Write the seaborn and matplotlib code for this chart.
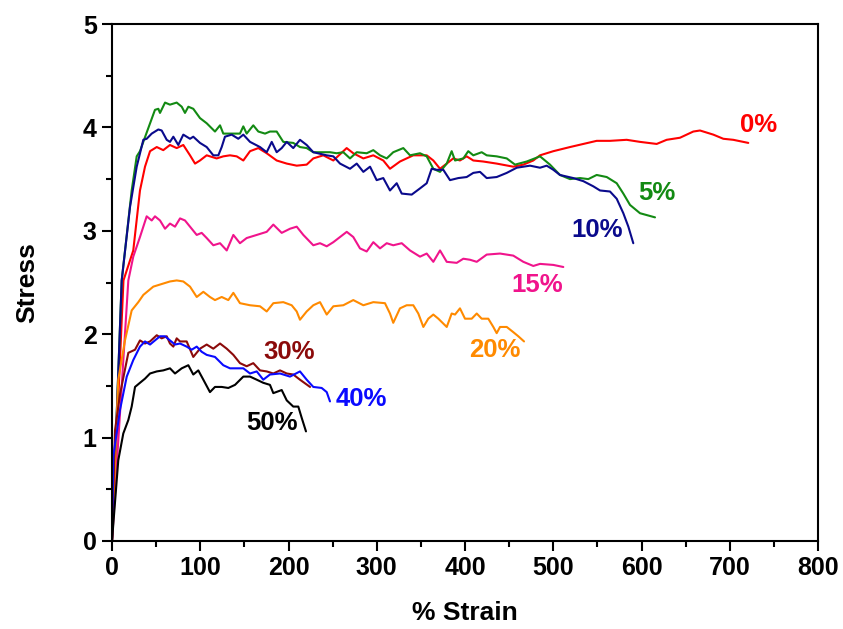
import matplotlib
matplotlib.use("Agg")
import matplotlib.pyplot as plt
from matplotlib.ticker import MultipleLocator
import numpy as np
import pandas as pd
import seaborn as sns

# Stress-strain curves for each filler content (strain in %, stress)
strain_0 = [0, 13.0, 24.1, 31.7, 37.4, 43.1, 50.7, 58.1, 65.7, 73.3, 80.8, 88.4, 94.1, 99.7, 107.3, 118.6, 126.1, 133.7, 141.3, 148.8, 156.4, 165.8, 175.3, 186.6, 198.0, 209.3, 220.6, 228.1, 239.4, 250.8, 265.9, 273.4, 284.8, 296.1, 307.4, 315.0, 326.3, 341.4, 356.6, 364.1, 371.7, 379.3, 386.7, 394.3, 401.9, 409.4, 420.7, 435.9, 454.7, 466.1, 477.4, 485.0, 500.1, 519.0, 534.1, 549.2, 564.3, 583.2, 598.3, 617.2, 628.5, 643.6, 658.7, 666.3, 681.4, 692.7, 704.0, 721.0]
stress_0 = [0, 2.52, 2.81, 3.39, 3.62, 3.77, 3.81, 3.78, 3.83, 3.80, 3.83, 3.73, 3.65, 3.68, 3.73, 3.70, 3.72, 3.73, 3.72, 3.68, 3.77, 3.80, 3.75, 3.68, 3.65, 3.63, 3.64, 3.70, 3.73, 3.68, 3.80, 3.75, 3.70, 3.73, 3.68, 3.60, 3.67, 3.73, 3.73, 3.68, 3.60, 3.65, 3.70, 3.68, 3.72, 3.68, 3.67, 3.65, 3.62, 3.64, 3.68, 3.73, 3.77, 3.81, 3.84, 3.87, 3.87, 3.88, 3.86, 3.84, 3.88, 3.90, 3.96, 3.97, 3.93, 3.89, 3.88, 3.85]

strain_5 = [0, 11.0, 22.3, 28.0, 31.7, 39.3, 48.7, 52.5, 54.4, 60.1, 65.7, 73.3, 79.0, 82.7, 86.5, 92.1, 99.7, 107.3, 116.7, 122.4, 126.1, 133.7, 145.0, 148.8, 152.6, 160.1, 165.8, 173.4, 179.0, 186.6, 194.1, 205.4, 213.0, 220.6, 228.1, 247.0, 254.6, 262.1, 269.7, 277.3, 288.6, 296.1, 303.7, 311.3, 318.7, 330.1, 337.7, 349.0, 356.6, 364.1, 371.7, 379.3, 384.9, 388.7, 398.1, 403.7, 409.4, 418.9, 424.6, 435.9, 447.3, 456.7, 469.9, 485.0, 496.3, 507.6, 519.0, 530.3, 539.7, 549.2, 560.6, 571.9, 579.4, 587.0, 598.3, 615.3]
stress_5 = [0, 2.52, 3.39, 3.72, 3.77, 3.95, 4.17, 4.18, 4.14, 4.24, 4.22, 4.24, 4.20, 4.14, 4.20, 4.18, 4.09, 4.04, 3.96, 4.02, 3.94, 3.94, 3.94, 4.01, 3.94, 4.02, 3.96, 3.94, 3.96, 3.96, 3.86, 3.85, 3.81, 3.80, 3.76, 3.76, 3.75, 3.76, 3.70, 3.76, 3.75, 3.78, 3.73, 3.70, 3.76, 3.80, 3.73, 3.75, 3.72, 3.60, 3.57, 3.65, 3.77, 3.68, 3.70, 3.77, 3.73, 3.76, 3.73, 3.72, 3.70, 3.64, 3.67, 3.72, 3.64, 3.54, 3.50, 3.51, 3.50, 3.54, 3.52, 3.46, 3.36, 3.25, 3.17, 3.13]

strain_10 = [0, 11.0, 20.4, 28.0, 35.5, 39.3, 45.0, 52.5, 56.3, 62.0, 65.7, 69.5, 75.1, 80.8, 88.4, 92.1, 99.7, 107.3, 114.8, 120.5, 124.3, 128.0, 135.6, 143.1, 148.8, 156.4, 167.7, 175.3, 181.0, 186.6, 192.3, 198.0, 205.4, 213.0, 220.6, 228.1, 243.2, 250.8, 258.4, 269.7, 277.3, 284.8, 292.4, 299.9, 307.4, 315.0, 322.6, 328.3, 339.6, 349.0, 356.6, 362.2, 367.9, 375.4, 383.0, 392.4, 401.9, 409.4, 417.0, 424.6, 435.9, 447.3, 458.6, 473.7, 485.0, 492.6, 500.1, 507.6, 522.7, 534.1, 545.4, 553.0, 564.3, 571.9, 579.4, 585.1, 590.7]
stress_10 = [0, 2.52, 3.23, 3.62, 3.88, 3.89, 3.94, 3.98, 3.97, 3.88, 3.86, 3.91, 3.83, 3.93, 3.89, 3.91, 3.85, 3.81, 3.73, 3.73, 3.81, 3.91, 3.93, 3.89, 3.93, 3.86, 3.81, 3.76, 3.86, 3.76, 3.80, 3.86, 3.80, 3.88, 3.83, 3.76, 3.73, 3.72, 3.65, 3.60, 3.65, 3.57, 3.62, 3.49, 3.51, 3.39, 3.46, 3.36, 3.35, 3.41, 3.46, 3.60, 3.59, 3.59, 3.49, 3.51, 3.52, 3.56, 3.57, 3.51, 3.52, 3.56, 3.61, 3.63, 3.61, 3.63, 3.59, 3.54, 3.51, 3.48, 3.43, 3.39, 3.38, 3.31, 3.17, 3.04, 2.88]

strain_15 = [0, 18.5, 24.1, 31.7, 39.3, 45.0, 48.7, 54.4, 60.1, 65.7, 71.4, 77.1, 82.7, 88.4, 96.0, 101.6, 107.3, 114.8, 122.4, 130.0, 137.5, 145.0, 152.6, 164.0, 175.3, 182.8, 192.3, 201.7, 209.3, 216.8, 228.1, 235.7, 243.3, 250.8, 258.4, 266.0, 273.4, 281.0, 288.6, 296.1, 303.7, 311.3, 318.7, 328.3, 337.7, 349.0, 356.6, 364.1, 371.7, 379.3, 390.6, 398.1, 405.7, 413.3, 424.6, 439.7, 454.7, 466.1, 477.4, 485.0, 500.1, 511.4]
stress_15 = [0, 2.52, 2.75, 2.94, 3.14, 3.10, 3.14, 3.10, 3.02, 3.07, 3.04, 3.12, 3.10, 3.04, 2.96, 2.98, 2.93, 2.86, 2.88, 2.81, 2.96, 2.88, 2.93, 2.96, 2.99, 3.06, 2.98, 3.02, 3.04, 2.96, 2.86, 2.88, 2.85, 2.89, 2.94, 2.99, 2.94, 2.83, 2.80, 2.89, 2.83, 2.88, 2.86, 2.88, 2.81, 2.75, 2.78, 2.70, 2.81, 2.70, 2.69, 2.73, 2.72, 2.70, 2.77, 2.78, 2.76, 2.70, 2.66, 2.68, 2.67, 2.65]

strain_20 = [0, 7.1, 14.7, 22.3, 29.8, 35.5, 46.8, 58.1, 65.7, 73.3, 80.8, 88.4, 96.0, 103.5, 111.0, 116.7, 124.3, 131.8, 137.5, 145.0, 156.4, 167.7, 175.3, 182.8, 194.1, 203.6, 209.3, 213.0, 220.6, 228.1, 235.7, 243.3, 250.8, 262.1, 273.4, 284.8, 296.1, 309.3, 315.0, 318.7, 326.3, 333.9, 341.4, 347.1, 352.8, 358.4, 364.1, 369.8, 379.3, 384.9, 388.7, 394.3, 400.0, 407.6, 413.3, 418.9, 426.4, 432.1, 435.9, 439.7, 447.3, 454.7, 460.4, 466.9]
stress_20 = [0, 1.56, 1.94, 2.23, 2.31, 2.38, 2.46, 2.49, 2.51, 2.52, 2.51, 2.46, 2.36, 2.41, 2.36, 2.33, 2.36, 2.33, 2.40, 2.30, 2.28, 2.27, 2.22, 2.30, 2.31, 2.28, 2.22, 2.14, 2.22, 2.28, 2.31, 2.19, 2.27, 2.28, 2.33, 2.28, 2.31, 2.30, 2.20, 2.11, 2.25, 2.28, 2.28, 2.20, 2.07, 2.15, 2.19, 2.15, 2.07, 2.20, 2.19, 2.25, 2.15, 2.15, 2.20, 2.15, 2.15, 2.07, 2.01, 2.07, 2.07, 2.02, 1.98, 1.93]

strain_30 = [0, 3.4, 9.1, 18.5, 26.1, 31.7, 37.4, 43.1, 50.7, 56.3, 62.0, 65.7, 69.5, 73.3, 77.1, 84.6, 92.1, 99.7, 107.3, 114.8, 122.4, 130.0, 137.5, 145.0, 152.6, 160.1, 167.7, 175.3, 182.8, 190.4, 198.0, 205.4, 213.0, 224.4]
stress_30 = [0, 1.07, 1.42, 1.82, 1.85, 1.94, 1.91, 1.93, 1.99, 1.96, 1.98, 1.91, 1.88, 1.96, 1.93, 1.93, 1.78, 1.86, 1.90, 1.86, 1.91, 1.86, 1.80, 1.72, 1.69, 1.72, 1.65, 1.64, 1.62, 1.65, 1.62, 1.61, 1.56, 1.49]

strain_40 = [0, 1.5, 9.1, 16.7, 24.1, 31.7, 37.4, 43.1, 48.7, 54.4, 60.1, 65.7, 71.4, 77.1, 84.6, 90.3, 96.0, 101.6, 107.3, 116.7, 126.1, 133.7, 141.3, 148.8, 156.4, 164.0, 171.4, 179.0, 190.4, 201.7, 213.0, 220.6, 228.1, 237.6, 243.3, 247.0]
stress_40 = [0, 0.82, 1.27, 1.59, 1.75, 1.88, 1.93, 1.90, 1.94, 1.98, 1.98, 1.94, 1.90, 1.91, 1.88, 1.85, 1.88, 1.83, 1.80, 1.78, 1.70, 1.67, 1.67, 1.67, 1.62, 1.64, 1.56, 1.61, 1.62, 1.59, 1.64, 1.56, 1.49, 1.48, 1.44, 1.35]

strain_50 = [0, 7.1, 12.8, 18.5, 22.3, 26.1, 31.7, 37.4, 43.1, 50.7, 58.1, 65.7, 71.4, 79.0, 86.5, 92.1, 97.8, 103.5, 111.0, 116.7, 124.3, 131.8, 139.4, 148.8, 156.4, 164.0, 171.4, 179.0, 182.8, 192.3, 198.0, 205.4, 211.1, 215.0, 219.8]
stress_50 = [0, 0.78, 1.04, 1.17, 1.30, 1.49, 1.53, 1.57, 1.62, 1.64, 1.65, 1.67, 1.62, 1.67, 1.70, 1.61, 1.65, 1.56, 1.44, 1.49, 1.49, 1.48, 1.51, 1.59, 1.59, 1.56, 1.53, 1.51, 1.43, 1.46, 1.36, 1.30, 1.30, 1.19, 1.06]

labels = ["0%", "5%", "10%", "15%", "20%", "30%", "40%", "50%"]
strains = [strain_0, strain_5, strain_10, strain_15, strain_20, strain_30, strain_40, strain_50]
stresses = [stress_0, stress_5, stress_10, stress_15, stress_20, stress_30, stress_40, stress_50]
colors = ["#ff0000", "#138a13", "#0a0a8c", "#f0148c", "#ff8a00", "#8b0a0a", "#0a0aff", "#000000"]

# label anchor points (strain, stress) for each curve
label_x = [733, 617, 550, 482, 434, 201, 282, 181]
label_y = [4.02, 3.37, 3.01, 2.48, 1.85, 1.83, 1.37, 1.14]

frames = []
for lab, xs, ys in zip(labels, strains, stresses):
    frames.append(pd.DataFrame({"Strain": xs, "Stress": ys, "Filler": lab}))
df = pd.concat(frames, ignore_index=True)

sns.set_style("ticks")
plt.rcParams["font.family"] = ["Liberation Sans", "DejaVu Sans"]
plt.rcParams["font.weight"] = "bold"
plt.rcParams["text.color"] = "black"
plt.rcParams["axes.labelcolor"] = "black"
plt.rcParams["xtick.color"] = "black"
plt.rcParams["ytick.color"] = "black"
plt.rcParams["axes.edgecolor"] = "black"

fig = plt.figure(figsize=(8.43, 6.29), dpi=100)
ax = fig.add_axes([112 / 843, 1 - 541 / 629, 706 / 843, 517 / 629])

sns.lineplot(data=df, x="Strain", y="Stress", hue="Filler", hue_order=labels,
             palette=colors, sort=False, estimator=None, linewidth=1.5,
             legend=False, ax=ax)

for lab, lx, ly, c in zip(labels, label_x, label_y, colors):
    ax.text(lx, ly, lab, color=c, fontsize=18.5, fontweight="bold",
            ha="center", va="center")

ax.set_xlim(0, 800)
ax.set_ylim(0, 5)
ax.xaxis.set_major_locator(MultipleLocator(100))
ax.xaxis.set_minor_locator(MultipleLocator(50))
ax.yaxis.set_major_locator(MultipleLocator(1))
ax.yaxis.set_minor_locator(MultipleLocator(0.5))
ax.tick_params(which="major", direction="out", length=7, width=1.5,
               labelsize=18, pad=4, colors="black")
ax.tick_params(which="minor", direction="out", length=4, width=1.5,
               colors="black")
for lbl in ax.get_xticklabels() + ax.get_yticklabels():
    lbl.set_fontweight("bold")
for sp in ax.spines.values():
    sp.set_visible(True)
    sp.set_linewidth(1.5)
    sp.set_color("black")

ax.set_xlabel("% Strain", fontsize=19, fontweight="bold", labelpad=15)
ax.set_ylabel("Stress", fontsize=19, fontweight="bold", labelpad=31)

fig.savefig("out.png", dpi=100, facecolor="white")
